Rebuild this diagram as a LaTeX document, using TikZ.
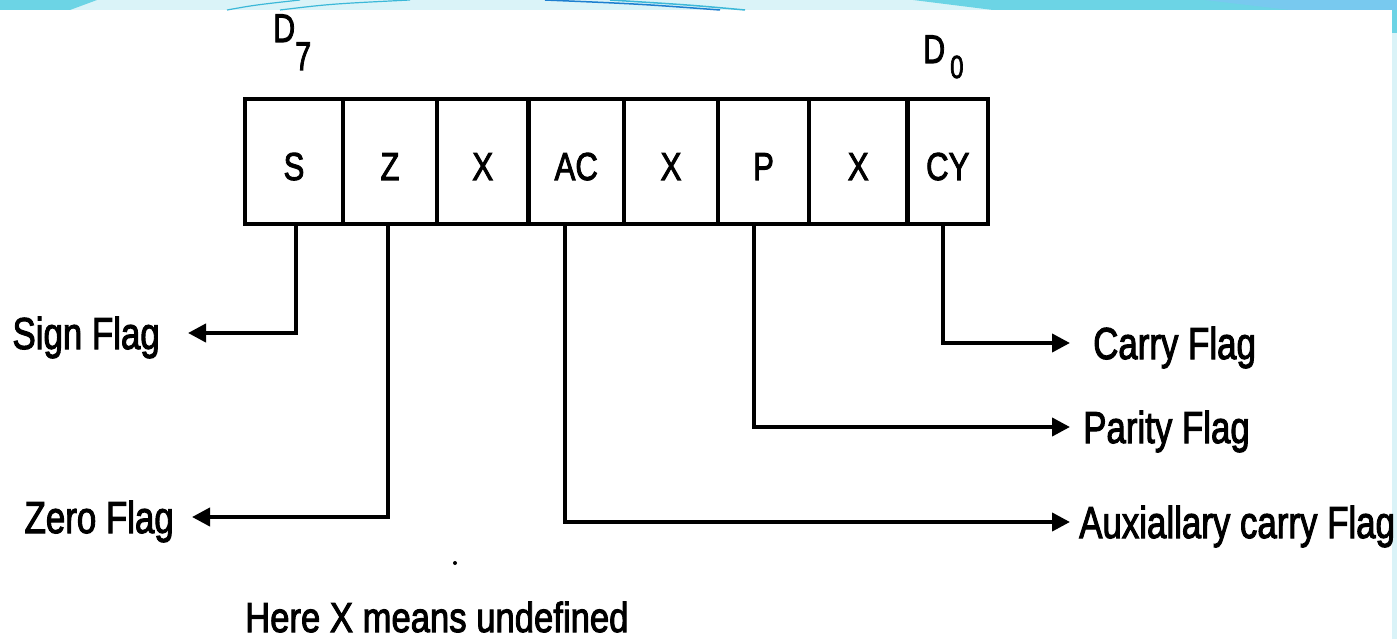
\documentclass[tikz,border=0pt]{standalone}
\usepackage{graphicx}
\usepackage{fontspec}
\setmainfont{Liberation Sans}
\newfontfamily\heavy[FakeBold=2.6]{Liberation Sans}
\usetikzlibrary{arrows.meta}
\definecolor{bandlight}{HTML}{DAF3F8}
\definecolor{banddark}{HTML}{6CD4E5}
\definecolor{bandblue}{HTML}{78C9EF}
\definecolor{arcblue}{HTML}{1E7FD0}
\definecolor{arcteal}{HTML}{3CB8D8}
% narrow the Arial-like glyphs horizontally
\newcommand\cond[2][0.78]{\scalebox{#1}[1]{#2}}
\begin{document}
\begin{tikzpicture}[x=1pt,y=-1pt,
  cell/.style={draw, line width=4.5pt, minimum height=125pt, inner sep=0pt,
    text height=37pt, text depth=0pt, font=\heavy\fontsize{39}{39}\selectfont},
  flagtext/.style={inner ysep=0pt, text height=32pt, text depth=0pt,
    font=\heavy\fontsize{44.7}{44.7}\selectfont},
  flagline/.style={line width=4pt, -{Triangle[length=18pt,width=18pt]}},
  bit/.style={anchor=base west, inner sep=0pt, font=\heavy\fontsize{40}{40}\selectfont},
]
% page and slide decoration
\fill[white] (0,0) rectangle (1397,639);
\useasboundingbox (0,0) rectangle (1397,639);
\fill[bandlight] (0,0) rectangle (1397,10);
\fill[banddark] (0,0) -- (97,0) -- (70,10) -- (0,10) -- cycle;
\fill[banddark] (913,0) -- (1397,0) -- (1397,10) -- (993,10) -- cycle;
\fill[bandblue] (1205,0) -- (1397,0) -- (1397,10) -- (1290,10) -- cycle;
\draw[arcteal, line width=1.2pt] (227,10) .. controls (255,5) .. (300,0);
\draw[arcteal, line width=1.2pt] (280,10) .. controls (330,4) .. (410,0);
\draw[arcblue, line width=1.5pt] (545,0) .. controls (640,4) .. (720,10);
\draw[arcteal, line width=1.5pt] (610,0) .. controls (690,5) .. (745,10);
\fill[bandlight] (1392,10) rectangle (1397,639);
\fill[banddark] (1392,10) rectangle (1397,33);

% flag register cells, D7 ... D0
\node[cell, minimum width=98pt]   (s)  at (294,161.5)    {\cond[0.8]{S}};
\node[cell, minimum width=94pt]   (z)  at (390,161.5)    {\cond[0.8]{Z}};
\node[cell, minimum width=91.5pt] (x1) at (482.75,161.5) {\cond[0.8]{X}};
\node[cell, minimum width=95.5pt] (ac) at (576.25,161.5) {\cond[0.8]{AC}};
\node[cell, minimum width=94pt]   (x2) at (671,161.5)    {\cond[0.8]{X}};
\node[cell, minimum width=91pt]   (p)  at (763.5,161.5)  {\cond[0.8]{P}};
\node[cell, minimum width=98.5pt] (x3) at (858.25,161.5) {\cond[0.8]{X}};
\node[cell, minimum width=80.5pt] (cy) at (947.75,161.5) {\cond[0.8]{CY}};

% bit numbers
\node[bit] (d7) at (273,42) {\cond[0.76]{D}\raisebox{-28pt}{\cond[0.72]{7}}};
\node[bit] (d0) at (923,63) {\cond[0.76]{D}\hspace{5pt}\raisebox{-15pt}{\fontsize{32}{32}\selectfont\cond[0.75]{0}}};

% flag names
\node[flagtext, anchor=east, inner xsep=28pt] (sign)   at (188,333)  {\cond{Sign Flag}};
\node[flagtext, anchor=east, inner xsep=18pt] (zero)   at (192,517)  {\cond{Zero Flag}};
\node[flagtext, anchor=west, inner xsep=23pt] (carry)  at (1070,343) {\cond{Carry Flag}};
\node[flagtext, anchor=west, inner xsep=13pt] (parity) at (1070,427) {\cond{Parity Flag}};
\node[flagtext, anchor=west, inner xsep=9pt]  (aux)    at (1070,522) {\cond{Auxiallary carry Flag}};

% connectors from the bits to their names
\draw[flagline] ([xshift=2pt]s.south)    |- (sign.east);
\draw[flagline] ([xshift=-2pt]z.south)   |- (zero.east);
\draw[flagline] ([xshift=-11pt]ac.south) |- (aux.west);
\draw[flagline] ([xshift=-10pt]p.south)  |- (parity.west);
\draw[flagline] ([xshift=-5pt]cy.south)  |- (carry.west);

% footnote
\fill (455,563) circle (2pt);
\node[anchor=base west, inner sep=0pt, font=\heavy\fontsize{42}{42}\selectfont] (note) at (245,632)
  {\cond[0.825]{Here X means undefined}};
\end{tikzpicture}
\end{document}
